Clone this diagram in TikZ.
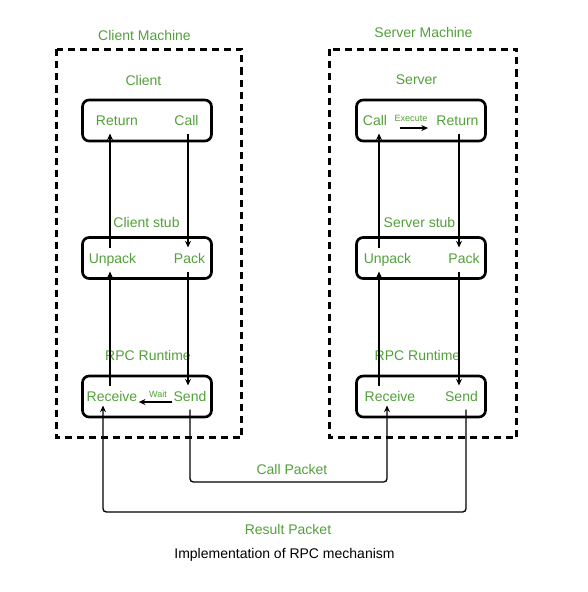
\documentclass[tikz,border=0pt]{standalone}
\usepackage{fontspec}
\setmainfont{Liberation Sans}
\usetikzlibrary{arrows.meta}
\definecolor{rpcgreen}{RGB}{82,160,58}
\tikzset{every picture/.style={line width=0.75pt}}

\begin{document}
\begin{tikzpicture}[x=0.75pt,y=0.75pt,yscale=-1,xscale=1,
  lbl/.style={text=rpcgreen,inner sep=0.75pt,font=\fontsize{10.5}{12}\selectfont},
  part/.style={lbl,text height=7.5pt,text depth=2.25pt},
  note/.style={text=rpcgreen,inner sep=0.75pt,font=\fontsize{6.8}{7.5}\selectfont},
  stage/.style={draw,line width=2pt,rounded corners=5pt,minimum width=96.75pt,minimum height=30.75pt,inner sep=0pt},
  machine/.style={draw,line width=2pt,dash pattern=on 5.25pt off 3.75pt},
  flow/.style={-{Stealth[length=5pt,width=4.5pt]},line width=1pt,shorten <=3pt,shorten >=3pt},
  packet/.style={-{Stealth[length=5pt,width=4.5pt]},line width=1pt,rounded corners=2.5pt,shorten <=3pt}]
\useasboundingbox (0,0) rectangle (588,592);

%Dashed Rectangles
\draw [machine] (56.5,49.5) rectangle (241.5,437.5) ;
\draw [machine] (329.5,49.5) rectangle (516.5,437.5) ;

%Rounded Rects
\draw (147,120.5) node [stage] (cTop) {};
\draw (147,258) node [stage] (cMid) {};
\draw (147,396.5) node [stage] (cLow) {};
\draw (421,120.5) node [stage] (sTop) {};
\draw (421,258) node [stage] (sMid) {};
\draw (421,396.5) node [stage] (sLow) {};

% Text Node
\draw (144.5,35.7) node [lbl] (cMachine) {Client Machine};
\draw (423.5,32.7) node [lbl] (sMachine) {Server Machine};
\draw (143.5,80) node [lbl] (cHead) {Client};
\draw (416.5,80) node [lbl] (sHead) {Server};
\draw (146.5,222) node [lbl] (cStub) {Client stub};
\draw (419.5,222) node [lbl] (sStub) {Server stub};
\draw (148,355.5) node [lbl] (cRuntime) {RPC Runtime};
\draw (417.5,355.5) node [lbl] (sRuntime) {RPC Runtime};

% Text Node
\draw (117,121.5) node [part] (cReturn) {Return};
\draw (186.5,121.5) node [part] (cCall) {Call};
\draw (112.5,259.5) node [part] (cUnpack) {Unpack};
\draw (189.5,259.5) node [part] (cPack) {Pack};
\draw (112,397.5) node [part] (cReceive) {Receive};
\draw (190,397.5) node [part] (cSend) {Send};
\draw (375,121.5) node [part] (sCall) {Call};
\draw (457.5,121.5) node [part] (sReturn) {Return};
\draw (387.5,259.5) node [part] (sUnpack) {Unpack};
\draw (464,259.5) node [part] (sPack) {Pack};
\draw (390,397.5) node [part] (sReceive) {Receive};
\draw (461.5,397.5) node [part] (sSend) {Send};

% Text Node
\draw (158,394.5) node [note] (cWait) {Wait};
\draw (411,118) node [note] (sExecute) {Execute};
\draw (292,469) node [lbl] (callPacket) {Call Packet};
\draw (288,529) node [lbl] (resultPacket) {Result Packet};
\draw (284.5,555) node [lbl,text=black] (caption) {Implementation of RPC mechanism};

%lanes
\coordinate (cL) at (110,0);
\coordinate (cR) at (188,0);
\coordinate (cIn) at (103,0);
\coordinate (cOut) at (190,0);
\coordinate (sL) at (379,0);
\coordinate (sR) at (459,0);
\coordinate (sIn) at (387,0);
\coordinate (sOut) at (466,0);
\coordinate (callY) at (0,482);
\coordinate (resultY) at (0,512);

%Straight Lines
\draw [flow] (cCall.south -| cR) -- (cPack.north -| cR) ;
\draw [flow] (cPack.south -| cR) -- (cSend.north -| cR) ;
\draw [flow] (cReceive.north -| cL) -- (cUnpack.south -| cL) ;
\draw [flow] (cUnpack.north -| cL) -- (cReturn.south -| cL) ;
\draw [flow] (sReceive.north -| sL) -- (sUnpack.south -| sL) ;
\draw [flow] (sUnpack.north -| sL) -- (sCall.south -| sL) ;
\draw [flow] (sReturn.south -| sR) -- (sPack.north -| sR) ;
\draw [flow] (sPack.south -| sR) -- (sSend.north -| sR) ;
\draw [flow,shorten <=0pt,shorten >=0pt] ([yshift=3.4pt]cSend.west) -- ([yshift=3.4pt]cReceive.east) ;
\draw [flow,shorten <=0pt,shorten >=0pt] ([xshift=8.25pt,yshift=4.9pt]sCall.east) -- ([xshift=-5.25pt,yshift=4.9pt]sReturn.west) ;

%Packet Lines
\draw [packet] (cSend.south -| cOut) |- (callY -| sIn) -- (sReceive.south -| sIn) ;
\draw [packet] (sSend.south -| sOut) |- (resultY -| cIn) -- (cReceive.south -| cIn) ;

\end{tikzpicture}
\end{document}
